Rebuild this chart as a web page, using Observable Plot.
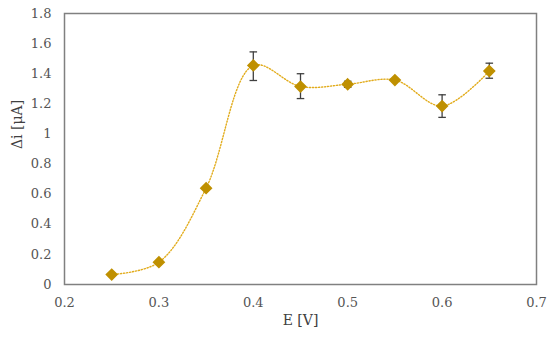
<!DOCTYPE html>
<html><head><meta charset="utf-8">
<script src="https://cdn.jsdelivr.net/npm/d3@7"></script>
<script src="https://cdn.jsdelivr.net/npm/@observablehq/plot@0.6"></script>
<style>
body{margin:0;background:#fff}
#chart svg, #chart svg text{font-family:"DejaVu Serif",serif !important;}
</style>
</head><body><div id="chart"></div>
<script>
const E = [0.25, 0.30, 0.35, 0.40, 0.45, 0.50, 0.55, 0.60, 0.65];
const di = [0.066, 0.148, 0.64, 1.455, 1.315, 1.33, 1.358, 1.185, 1.418];
const errLow = [0.06, 0.14, 0.63, 1.355, 1.235, 1.31, 1.35, 1.11, 1.37];
const errHigh = [0.072, 0.156, 0.65, 1.545, 1.40, 1.35, 1.366, 1.26, 1.47];
const xTicks = [0.2, 0.3, 0.4, 0.5, 0.6, 0.7];
const yTicks = [0, 0.2, 0.4, 0.6, 0.8, 1, 1.2, 1.4, 1.6, 1.8];
const xTitle = "E [V]";
const yTitle = "Δi [μA]";

const data = E.map((e, i) => ({e, v: di[i], lo: errLow[i], hi: errHigh[i]}));
const errData = data.filter(d => d.hi - d.lo > 0.03);
const capW = 0.004;

const chart = Plot.plot({
  width: 550, height: 341,
  marginLeft: 64, marginRight: 14, marginTop: 13, marginBottom: 57,
  style: {fontSize: "13px", color: "#555", background: "#fff"},
  x: {domain: [0.2, 0.7], ticks: xTicks, tickSize: 0, tickPadding: 13, tickFormat: d => String(d), label: null},
  y: {domain: [0, 1.8], ticks: yTicks, tickSize: 0, tickPadding: 13, tickFormat: d => String(d), label: null},
  marks: [
    Plot.frame({stroke: "#808080", strokeWidth: 1.5}),
    Plot.line(data, {x: "e", y: "v", curve: "catmull-rom", stroke: "#E2AC1C", strokeWidth: 1.4, strokeDasharray: "1.2,1.8"}),
    Plot.ruleX(errData, {x: "e", y1: "lo", y2: "hi", stroke: "#404040", strokeWidth: 1.3}),
    Plot.link(errData, {x1: d => d.e - capW, x2: d => d.e + capW, y1: "lo", y2: "lo", stroke: "#404040", strokeWidth: 1.3}),
    Plot.link(errData, {x1: d => d.e - capW, x2: d => d.e + capW, y1: "hi", y2: "hi", stroke: "#404040", strokeWidth: 1.3}),
    Plot.dot(data, {x: "e", y: "v", symbol: "diamond2", r: 4.8, fill: "#BF9000", stroke: "#BF9000"}),
    Plot.text([xTitle], {text: d => d, frameAnchor: "bottom", dy: 40, fontSize: 14, fill: "#404040"}),
    Plot.text([yTitle], {text: d => d, frameAnchor: "left", dx: -47, rotate: -90, fontSize: 14, fill: "#404040"})
  ]
});
document.getElementById("chart").appendChild(chart);
</script>
</body></html>
